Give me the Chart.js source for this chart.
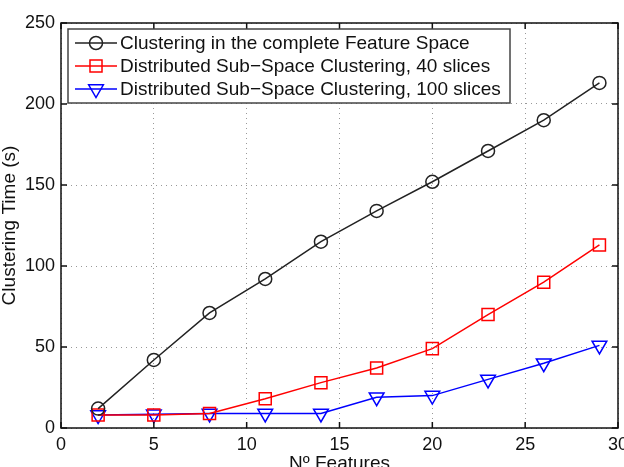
<!DOCTYPE html>
<html>
<head>
<meta charset="utf-8">
<script src="https://cdn.jsdelivr.net/npm/chart.js@4.4.0/dist/chart.umd.min.js"></script>
<style>
  html, body { margin: 0; padding: 0; background: #fff; }
  #wrap { width: 624px; height: 467px; }
</style>
</head>
<body>
<div id="wrap"><canvas id="lineChart" width="624" height="467"></canvas></div>
<script>
// values
var features = [2, 5, 8, 11, 14, 17, 20, 23, 26, 29];
var completeSpace = [12, 42, 71, 92, 115, 134, 152, 171, 190, 213];
var slices40 = [8, 8, 9, 18, 28, 37, 49, 70, 90, 113];
var slices100 = [8, 8.5, 9, 9, 9, 19, 20, 30, 40, 51];
var xTicks = [0, 5, 10, 15, 20, 25, 30];
var yTicks = [0, 50, 100, 150, 200, 250];

var FONT = "'Liberation Sans', Arial, Helvetica, sans-serif";

function toPoints(ys) {
    return features.map(function (x, i) { return { x: x, y: ys[i] }; });
}

function noPadding() {
    return { left: 0, top: 0, right: 0, bottom: 0 };
}

function markerPath(ctx, style, r, x, y) {
    ctx.beginPath();
    if (style === 'circle') {
        ctx.arc(x, y, r, 0, Math.PI * 2);
    } else if (style === 'rect') {
        var s = r * Math.SQRT1_2;
        ctx.rect(x - s, y - s, 2 * s, 2 * s);
    } else {
        // downward triangle
        var a = r * Math.sqrt(3) / 2;
        ctx.moveTo(x - a, y - r / 2);
        ctx.lineTo(x + a, y - r / 2);
        ctx.lineTo(x, y + r);
        ctx.closePath();
    }
    ctx.stroke();
}

// matlab-like frame with inward ticks on all sides + boxed legend
var matlabFrame = {
    id: 'matlabFrame',
    afterDraw: function (chart) {
        var ctx = chart.ctx, a = chart.chartArea;
        var xs = chart.scales.x, ys = chart.scales.y;
        ctx.save();
        ctx.strokeStyle = '#111';
        ctx.lineWidth = 1.5;
        ctx.strokeRect(a.left, a.top, a.right - a.left, a.bottom - a.top);
        ctx.beginPath();
        xTicks.forEach(function (v) {
            var px = xs.getPixelForValue(v);
            ctx.moveTo(px, a.bottom); ctx.lineTo(px, a.bottom - 6);
            ctx.moveTo(px, a.top); ctx.lineTo(px, a.top + 6);
        });
        yTicks.forEach(function (v) {
            var py = ys.getPixelForValue(v);
            ctx.moveTo(a.left, py); ctx.lineTo(a.left + 6, py);
            ctx.moveTo(a.right, py); ctx.lineTo(a.right - 6, py);
        });
        ctx.stroke();

        // legend box
        var lx = a.left + 7, ly = a.top + 6, lw = 442, lh = 74;
        ctx.fillStyle = '#fff';
        ctx.fillRect(lx, ly, lw, lh);
        ctx.strokeStyle = '#444';
        ctx.lineWidth = 1.5;
        ctx.strokeRect(lx, ly, lw, lh);
        ctx.font = '19px ' + FONT;
        ctx.textBaseline = 'middle';
        chart.data.datasets.forEach(function (ds, i) {
            var cy = ly + 14 + i * 23;
            ctx.strokeStyle = ds.borderColor;
            ctx.lineWidth = 1.5;
            ctx.beginPath();
            ctx.moveTo(lx + 7, cy); ctx.lineTo(lx + 49, cy);
            ctx.stroke();
            markerPath(ctx, ds.pointStyle, ds.pointRadius, lx + 28, cy);
            ctx.fillStyle = '#111';
            ctx.fillText(ds.label, lx + 52, cy + 1);
        });
        ctx.restore();
    }
};

var ctx = document.getElementById('lineChart').getContext('2d');
var lineChart = new Chart(ctx, {
    type: 'line',
    data: {
        datasets: [{
            label: 'Clustering in the complete Feature Space',
            data: toPoints(completeSpace),
            borderColor: '#222',
            borderWidth: 1.5,
            pointStyle: 'circle',
            pointRadius: 6.5,
            pointBorderWidth: 1.5,
            pointBackgroundColor: 'rgba(0,0,0,0)'
        }, {
            label: 'Distributed Sub\u2212Space Clustering, 40 slices',
            data: toPoints(slices40),
            borderColor: '#ff0000',
            borderWidth: 1.5,
            pointStyle: 'rect',
            pointRadius: 8.5,
            pointBorderWidth: 1.5,
            pointBackgroundColor: 'rgba(0,0,0,0)'
        }, {
            label: 'Distributed Sub\u2212Space Clustering, 100 slices',
            data: toPoints(slices100),
            borderColor: '#0000ff',
            borderWidth: 1.5,
            pointStyle: 'triangle',
            pointRotation: 180,
            pointRadius: 8.5,
            pointBorderWidth: 1.5,
            pointBackgroundColor: 'rgba(0,0,0,0)'
        }]
    },
    options: {
        responsive: false,
        animation: false,
        events: [],
        layout: { autoPadding: false, padding: { top: 23, right: 6, bottom: 0, left: 0 } },
        plugins: {
            legend: { display: false },
            tooltip: { enabled: false }
        },
        scales: {
            x: {
                type: 'linear',
                min: 0,
                max: 30,
                afterBuildTicks: function (scale) {
                    scale.ticks = xTicks.map(function (v) { return { value: v }; });
                },
                afterFit: function (scale) {
                    scale.height = 39;
                    scale.paddingLeft = 0;
                    scale.paddingRight = 0;
                    scale.getPadding = noPadding;
                },
                grid: {
                    color: '#999',
                    lineWidth: 1,
                    drawTicks: false
                },
                border: { display: false, dash: [1, 4] },
                ticks: {
                    padding: 6,
                    color: '#111',
                    font: { family: FONT, size: 18 }
                },
                title: {
                    display: true,
                    text: 'N\u00ba Features',
                    color: '#111',
                    padding: { top: 0, bottom: -8 },
                    font: { family: FONT, size: 19 }
                }
            },
            y: {
                min: 0,
                max: 250,
                afterBuildTicks: function (scale) {
                    scale.ticks = yTicks.map(function (v) { return { value: v }; });
                },
                afterFit: function (scale) {
                    scale.width = 61;
                    scale.paddingTop = 0;
                    scale.paddingBottom = 0;
                    scale.getPadding = noPadding;
                },
                grid: {
                    color: '#999',
                    lineWidth: 1,
                    drawTicks: false
                },
                border: { display: false, dash: [1, 4] },
                ticks: {
                    padding: 6,
                    color: '#111',
                    font: { family: FONT, size: 18 }
                },
                title: {
                    display: true,
                    text: 'Clustering Time (s)',
                    color: '#111',
                    padding: { top: -2, bottom: 0 },
                    font: { family: FONT, size: 19 }
                }
            }
        }
    },
    plugins: [matlabFrame]
});
</script>
</body>
</html>
